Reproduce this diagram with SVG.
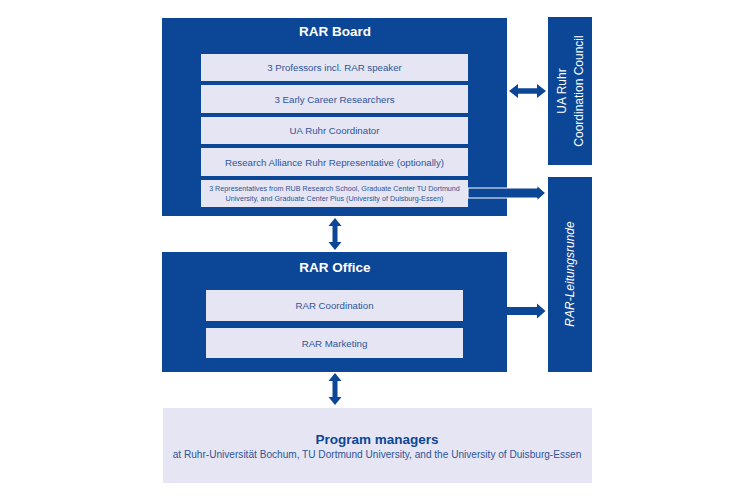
<svg xmlns="http://www.w3.org/2000/svg" width="750" height="500" viewBox="0 0 750 500">
<style>
.dark{fill:#0b4697}
.light{fill:#e5e5f3}
.title{font-family:"Liberation Sans",Arial,sans-serif;font-weight:bold;font-size:13.5px;fill:#ffffff;text-anchor:middle}
.row{font-family:"Liberation Sans",Arial,sans-serif;font-size:9.7px;fill:#2f5597;text-anchor:middle}
.small{font-family:"Liberation Sans",Arial,sans-serif;font-size:7.2px;fill:#2f5597;text-anchor:middle}
.side{font-family:"Liberation Sans",Arial,sans-serif;font-size:12px;fill:#ffffff;text-anchor:middle}
.arrow{fill:#0b4697}
</style>
<rect width="750" height="500" fill="#ffffff"/>
<g id="rar-board">
<rect class="dark" x="162" y="18" width="345" height="198"/>
<text class="title" x="335" y="36">RAR Board</text>
<rect class="light" x="201" y="54" width="267" height="27"/>
<text class="row" x="334.5" y="71">3 Professors incl. RAR speaker</text>
<rect class="light" x="201" y="85" width="267" height="28"/>
<text class="row" x="334.5" y="102.5">3 Early Career Researchers</text>
<rect class="light" x="201" y="117" width="267" height="27"/>
<text class="row" x="334.5" y="134">UA Ruhr Coordinator</text>
<rect class="light" x="201" y="148" width="267" height="28"/>
<text class="row" x="334.5" y="165.5">Research Alliance Ruhr Representative (optionally)</text>
<rect class="light" x="201" y="180" width="267" height="27"/>
<text class="small" x="334.5" y="191">3 Representatives from RUB Research School, Graduate Center TU Dortmund</text>
<text class="small" x="334.5" y="201">University, and Graduate Center Plus (University of Duisburg-Essen)</text>
</g>
<g id="council">
<rect class="dark" x="548" y="17" width="44" height="148"/>
<text class="side" transform="translate(566,91) rotate(-90)">UA Ruhr</text>
<text class="side" transform="translate(583,91) rotate(-90)">Coordination Council</text>
</g>
<g id="leitungsrunde">
<rect class="dark" x="548" y="177" width="44" height="195"/>
<text class="side" font-style="italic" font-size="12.5" transform="translate(574,274) rotate(-90)">RAR-Leitungsrunde</text>
</g>
<g id="rar-office">
<rect class="dark" x="162" y="252" width="345" height="120"/>
<text class="title" x="335" y="271.5">RAR Office</text>
<rect class="light" x="206" y="290" width="257" height="31"/>
<text class="row" x="334.5" y="309">RAR Coordination</text>
<rect class="light" x="206" y="328" width="257" height="30"/>
<text class="row" x="334.5" y="346.5">RAR Marketing</text>
</g>
<g id="program-managers">
<rect class="light" x="163" y="408" width="429" height="75"/>
<text x="377" y="444" text-anchor="middle" font-family="Liberation Sans,Arial,sans-serif" font-weight="bold" font-size="13.5" fill="#0b4697">Program  managers</text>
<text x="377" y="458" text-anchor="middle" font-family="Liberation Sans,Arial,sans-serif" font-size="10.1" fill="#2f5597">at Ruhr-Universität Bochum, TU Dortmund University, and the University of Duisburg-Essen</text>
</g>
<g id="connectors">
<polygon class="arrow" points="509,91 518,84 518,88.3 537,88.3 537,84 546,91 537,98 537,93.7 518,93.7 518,98"/>
<polygon class="arrow" stroke="#ffffff" stroke-width="1" points="468,188 537,188 537,185.5 545.5,193 537,200.5 537,198 468,198"/>
<polygon class="arrow" points="507,307 537,307 537,303.5 545.5,311 537,318.5 537,315 507,315"/>
<polygon class="arrow" points="335,218 341.5,226 337.5,226 337.5,242 341.5,242 335,250 328.5,242 332.5,242 332.5,226 328.5,226"/>
<polygon class="arrow" points="335,373 341.5,381 337.5,381 337.5,397 341.5,397 335,405 328.5,397 332.5,397 332.5,381 328.5,381"/>
</g>
</svg>
